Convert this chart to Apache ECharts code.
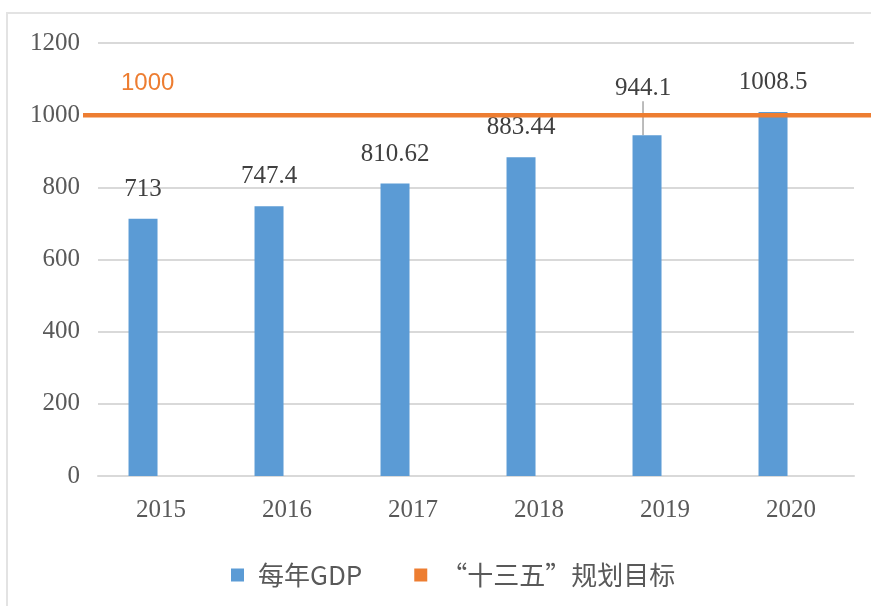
<!DOCTYPE html>
<html>
<head>
<meta charset="utf-8">
<script src="https://cdn.jsdelivr.net/npm/echarts@6/dist/echarts.min.js"></script>
<style>
  html, body { margin: 0; padding: 0; background: #fff; }
  #frame { position: absolute; left: 6px; top: 12px; width: 865px; height: 594px;
           border-left: 2px solid #e3e3e3; border-top: 2px solid #e3e3e3; }
  #chart { position: absolute; left: 0; top: 0; width: 871px; height: 606px; }
</style>
</head>
<body>
<div id="frame"></div>
<div id="chart"></div>
<script>
// 年份
var years = ['2015', '2016', '2017', '2018', '2019', '2020']
// 每年GDP
var gdp = [713, 747.4, 810.62, 883.44, 944.1, 1008.5]
// "十三五"规划目标
var target = 1000
var yTicks = { min: 0, max: 1200, interval: 200 }

var serif = '"Liberation Serif", "Times New Roman", serif'
var cjk = '"Noto Sans CJK SC", sans-serif'

// 2019 的标签被挤上去了，带一根引导线
var barData = gdp.map(function (v, i) {
  if (i === 4) return { value: v, labelLine: { show: true } }
  return v
})

var chart = echarts.init(document.getElementById('chart'))
chart.setOption({
  animation: false,
  legend: {
    data: [
      { name: '每年GDP', icon: 'rect' },
      { name: '“十三五”规划目标', icon: 'rect' }
    ],
    left: 226,
    top: 557,
    itemWidth: 13,
    itemHeight: 13,
    itemGap: 52,
    textStyle: { fontFamily: cjk, fontSize: 26, color: '#595959', padding: [0, 0, 0, 9] }
  },
  grid: [
    { left: 98, right: 17, top: 43, bottom: 130 },
    { left: 83, right: 0, top: 43, bottom: 130 }
  ],
  xAxis: [{
    type: 'category',
    data: years,
    gridIndex: 0,
    axisTick: { show: false },
    axisLine: { lineStyle: { color: '#d9d9d9', width: 2 } },
    axisLabel: { fontFamily: serif, fontSize: 25, color: '#595959', margin: 22 }
  }, {
    type: 'value', gridIndex: 1, min: 0, max: 1, show: false
  }],
  yAxis: [{
    type: 'value',
    gridIndex: 0,
    min: yTicks.min,
    max: yTicks.max,
    interval: yTicks.interval,
    axisLine: { show: false },
    axisTick: { show: false },
    splitLine: { lineStyle: { color: '#d9d9d9', width: 2 } },
    axisLabel: {
      fontFamily: serif, fontSize: 25, color: '#595959', margin: 18,
      formatter: function (v) { return String(v) }
    }
  }, {
    type: 'value', gridIndex: 1, min: yTicks.min, max: yTicks.max, show: false
  }],
  series: [{
    name: '每年GDP',
    type: 'bar',
    data: barData,
    barWidth: 29,
    barGap: '24%',
    itemStyle: { color: '#5b9bd5' },
    label: {
      show: true,
      position: 'top',
      distance: 17,
      fontFamily: serif,
      fontSize: 25,
      color: '#404040'
    },
    labelLine: { show: false, lineStyle: { color: '#a6a6a6', width: 1.5 } },
    labelLayout: function (params) {
      if (params.dataIndex === 4) return { dx: -4, dy: -17 }
      return {}
    }
  }, {
    name: '_gap',
    type: 'bar',
    data: years.map(function () { return null }),
    barWidth: 29,
    barGap: '24%'
  }, {
    name: '“十三五”规划目标',
    type: 'line',
    xAxisIndex: 1,
    yAxisIndex: 1,
    z: 5,
    data: [[0, target], [1, target]],
    symbol: 'circle',
    symbolSize: 0,
    itemStyle: { color: '#ed7d31' },
    lineStyle: { color: '#ed7d31', width: 4.5 },
    label: {
      show: true,
      position: 'right',
      distance: 38,
      offset: [0, -32],
      fontFamily: '"Liberation Sans", Arial, sans-serif',
      fontSize: 24,
      color: '#ed7d31',
      formatter: function (p) { return p.dataIndex === 0 ? String(target) : '' }
    }
  }]
})
</script>
</body>
</html>
